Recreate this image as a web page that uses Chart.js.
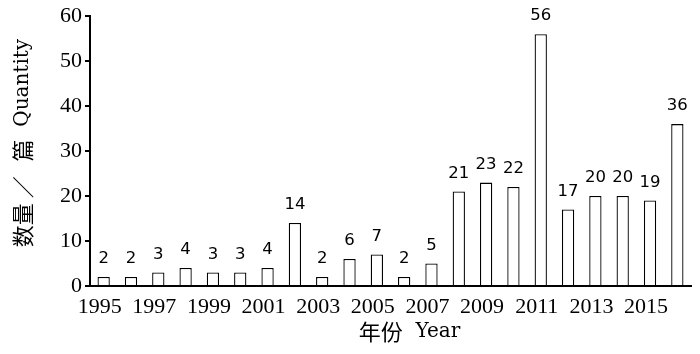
<!DOCTYPE html>
<html>
<head>
<meta charset="utf-8">
<script src="https://cdn.jsdelivr.net/npm/chart.js@4"></script>
<style>
  html, body { margin: 0; padding: 0; background: #fff; }
  #wrap { width: 700px; height: 354px; }
</style>
</head>
<body>
<div id="wrap"><canvas id="c"></canvas></div>
<script>
const years = ['1995','1996','1997','1998','1999','2000','2001','2002','2003','2004','2005',
               '2006','2007','2008','2009','2010','2011','2012','2013','2014','2015','2016'];
const counts = [2, 2, 3, 4, 3, 3, 4, 14, 2, 6, 7, 2, 5, 21, 23, 22, 56, 17, 20, 20, 19, 36];
// titles: [text, font] pieces, Chinese part then Latin part
const xTitle = [['年份', '22px "Noto Sans CJK SC"'], ['  Year', '20px "DejaVu Serif"']];
const yTitle = [['数量 ／   篇', '22px "Noto Sans CJK SC"'], ['  Quantity', '20px "DejaVu Serif"']];

const serif = '"Liberation Serif", "Noto Sans CJK SC", serif';

// value above each bar
const valueLabels = {
    id: 'valueLabels',
    afterDatasetsDraw(chart) {
        const ctx = chart.ctx;
        const meta = chart.getDatasetMeta(0);
        ctx.save();
        ctx.font = '16.5px "DejaVu Sans", sans-serif';
        ctx.fillStyle = '#000';
        ctx.textAlign = 'center';
        ctx.textBaseline = 'alphabetic';
        meta.data.forEach(function (bar, i) {
            ctx.fillText(String(counts[i]), bar.x, bar.y - 14);
        });
        ctx.restore();
    }
};

function drawPieces(ctx, pieces, cx, cy) {
    let total = 0;
    pieces.forEach(function (p) { ctx.font = p[1]; total += ctx.measureText(p[0]).width; });
    let x = cx - total / 2;
    pieces.forEach(function (p) {
        ctx.font = p[1];
        ctx.fillText(p[0], x, cy);
        x += ctx.measureText(p[0]).width;
    });
}

// axis titles drawn by hand so they sit where the original has them
const axisTitles = {
    id: 'axisTitles',
    afterDraw(chart) {
        const ctx = chart.ctx;
        const area = chart.chartArea;
        ctx.save();
        ctx.fillStyle = '#000';
        ctx.textAlign = 'left';
        ctx.textBaseline = 'middle';
        drawPieces(ctx, xTitle, (area.left + area.right) / 2 + 19, 332);
        ctx.translate(23, 143);
        ctx.rotate(-Math.PI / 2);
        drawPieces(ctx, yTitle, 0, 0);
        ctx.restore();
    }
};

new Chart(document.getElementById('c'), {
    type: 'bar',
    data: {
        labels: years,
        datasets: [{
            data: counts,
            backgroundColor: '#fff',
            borderColor: '#000',
            borderWidth: 1.3,
            barPercentage: 0.45,
            categoryPercentage: 1.0
        }]
    },
    options: {
        responsive: true,
        maintainAspectRatio: false,
        animation: false,
        layout: { padding: { top: 15, right: 9, left: 0, bottom: 0 } },
        plugins: { legend: { display: false }, tooltip: { enabled: false } },
        scales: {
            x: {
                grid: { display: false },
                border: { display: true, color: '#000', width: 2 },
                ticks: {
                    autoSkip: false,
                    maxRotation: 0,
                    color: '#000',
                    padding: 0,
                    labelOffset: -4,
                    font: { family: serif, size: 22 },
                    callback: function (v, i) { return i % 2 === 0 ? years[i] : ''; }
                },
                afterFit: function (s) { s.height = 68; }
            },
            y: {
                min: 0,
                max: 60,
                grid: { drawOnChartArea: false, drawTicks: true, tickLength: 5, color: '#000', lineWidth: 2 },
                border: { display: true, color: '#000', width: 2 },
                ticks: {
                    stepSize: 10,
                    color: '#000',
                    padding: 3,
                    font: { family: serif, size: 22 }
                },
                afterFit: function (s) { s.width = 90; }
            }
        }
    },
    plugins: [valueLabels, axisTitles]
});
</script>
</body>
</html>
